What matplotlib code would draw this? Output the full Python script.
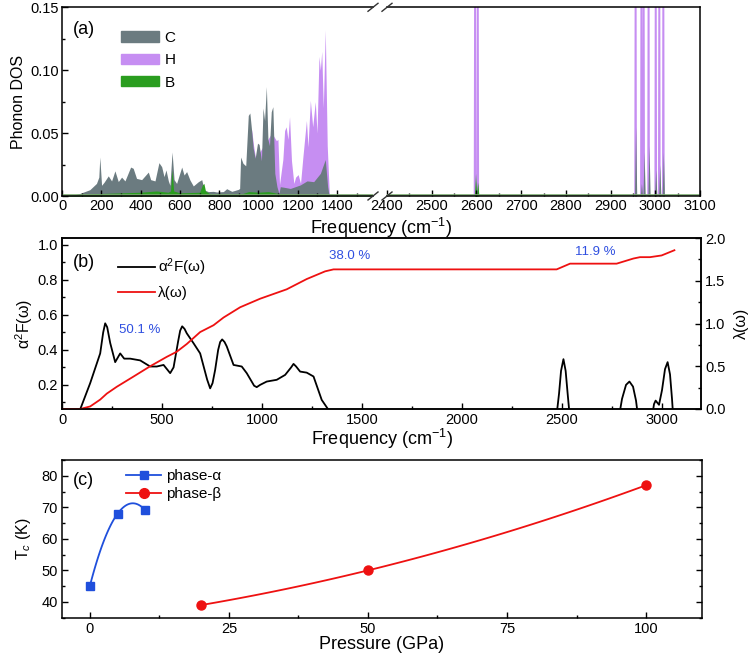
import matplotlib
matplotlib.use("Agg")
import matplotlib.pyplot as plt
from matplotlib.patches import Patch
from matplotlib.lines import Line2D
from matplotlib.ticker import MultipleLocator
import numpy as np

plt.rcParams["font.family"] = ["Liberation Sans", "DejaVu Sans"]
plt.rcParams["mathtext.fontset"] = "custom"
plt.rcParams["mathtext.rm"] = "Liberation Sans"
plt.rcParams["mathtext.it"] = "Liberation Sans:italic"

# ---- panel (a): phonon DOS, low-frequency part ----
c_freq = [0, 50, 90, 141, 175, 187, 192, 201, 214, 235, 252, 269, 286, 303, 320, 349, 362,
          379, 405, 422, 439, 451, 473, 493, 507, 519, 529, 541, 549, 560, 570, 583, 609,
          621, 634, 651, 668, 694, 711, 723, 745, 770, 787, 821, 838, 864, 898, 904, 909,
          921, 935, 948, 956, 965, 973, 983, 995, 1003, 1015, 1023, 1031, 1040, 1048, 1056,
          1065, 1073, 1083, 1094, 1104, 1111, 1128, 1162, 1213, 1247, 1281, 1315, 1340,
          1352, 1360, 1583]
c_dos = [0, 0.0005, 0.002, 0.005, 0.010, 0.015, 0.031, 0.0085, 0.011, 0.016, 0.012, 0.020,
         0.0115, 0.015, 0.012, 0.023, 0.022, 0.014, 0.013, 0.016, 0.019, 0.013, 0.012,
         0.0265, 0.0233, 0.0154, 0.0207, 0.012, 0.0085, 0.035, 0.013, 0.010, 0.023,
         0.0167, 0.0194, 0.0127, 0.008, 0.0114, 0.013, 0.0048, 0.0035, 0.0037, 0.0032,
         0.0035, 0.0058, 0.0037, 0.0053, 0.006, 0.031, 0.026, 0.024, 0.064, 0.066, 0.052,
         0.038, 0.030, 0.042, 0.041, 0.028, 0.070, 0.060, 0.087, 0.045, 0.040, 0.067,
         0.071, 0.018, 0.0074, 0.002, 0.0074, 0.007, 0.006, 0.0088, 0.012, 0.0114, 0.018,
         0.029, 0.0074, 0, 0]

h_freq = [0, 900, 960, 965, 975, 985, 1068, 1091, 1099, 1107, 1124, 1133, 1141, 1150, 1158,
          1168, 1180, 1189, 1202, 1214, 1226, 1244, 1252, 1264, 1276, 1289, 1298, 1308, 1315,
          1322, 1330, 1340, 1350, 1361, 1583]
h_dos = [0, 0, 0.030, 0.053, 0.040, 0.030, 0.050, 0.044, 0.045, 0.009, 0.029, 0.052, 0.055,
         0.045, 0.063, 0.028, 0.010, 0.015, 0.017, 0.010, 0.031, 0.060, 0.039, 0.076, 0.055,
         0.075, 0.050, 0.111, 0.100, 0.115, 0.070, 0.132, 0.040, 0, 0]

b_freq = [0, 100, 200, 300, 400, 480, 540, 552, 560, 568, 600, 700, 715, 722, 730, 760, 900,
          950, 1000, 1050, 1100, 1200, 1340, 1360, 1583]
b_dos = [0.0005, 0.001, 0.002, 0.0025, 0.003, 0.004, 0.003, 0.004, 0.0207, 0.004, 0.0025,
         0.003, 0.009, 0.010, 0.004, 0.001, 0.001, 0.0035, 0.003, 0.0035, 0.002, 0.001,
         0.001, 0.0005, 0.0005]

# ---- panel (a): high-frequency spikes (positions / heights) ----
h_spike_freq = [2597, 2603, 2956, 2969, 2974, 2985, 3001, 3009, 3018]
h_spike_dos = [0.6, 0.6, 0.6, 0.6, 0.6, 0.6, 0.6, 0.6, 0.6]
c_spike_freq = [2600, 2956, 2969, 2975, 2986, 3001, 3010, 3018]
c_spike_dos = [0.012, 0.055, 0.010, 0.035, 0.040, 0.021, 0.025, 0.035]
b_spike_freq = [2598, 2603]
b_spike_dos = [0.018, 0.011]

# ---- panel (b): Eliashberg function and lambda ----
a2f_freq = [90, 140, 190, 205, 215, 225, 240, 265, 290, 310, 340, 390, 440, 473, 507, 540,
            557, 580, 590, 600, 612, 623, 657, 690, 725, 740, 752, 765, 780, 790, 800, 812,
            823, 857, 898, 923, 960, 973, 990, 1023, 1073, 1115, 1145, 1157, 1170, 1190, 1223,
            1257, 1298, 1332, 1345]
a2f_val = [0.06, 0.21, 0.38, 0.50, 0.552, 0.53, 0.44, 0.33, 0.38, 0.35, 0.35, 0.34, 0.305,
           0.305, 0.314, 0.267, 0.30, 0.45, 0.51, 0.535, 0.52, 0.495, 0.438, 0.38, 0.23,
           0.18, 0.21, 0.286, 0.40, 0.445, 0.46, 0.445, 0.42, 0.314, 0.305, 0.267, 0.195,
           0.187, 0.20, 0.219, 0.229, 0.257, 0.30, 0.32, 0.305, 0.276, 0.27, 0.248, 0.114,
           0.057, 0.03]
a2f_freq_hi = [2470, 2485, 2495, 2507, 2518, 2528, 2540, 2782, 2800, 2820, 2837, 2855, 2870,
               2882, 2948, 2960, 2968, 2985, 3000, 3015, 3028, 3040, 3050, 3057]
a2f_val_hi = [0.0, 0.15, 0.28, 0.347, 0.28, 0.15, 0.0, 0.0, 0.12, 0.2, 0.219, 0.19, 0.11,
              0.0, 0.0, 0.09, 0.11, 0.086, 0.17, 0.29, 0.33, 0.26, 0.12, 0.0]

lam_freq = [0, 90, 140, 190, 223, 273, 357, 440, 523, 573, 623, 690, 757, 807, 890, 990,
            1123, 1223, 1315, 1357, 2473, 2540, 2773, 2815, 2857, 2890, 2940, 2998, 3062]
lam_val = [0, 0, 0.03, 0.11, 0.18, 0.26, 0.38, 0.50, 0.61, 0.67, 0.76, 0.90, 0.98, 1.07,
           1.19, 1.29, 1.40, 1.52, 1.61, 1.633, 1.633, 1.70, 1.70, 1.73, 1.76, 1.776, 1.776,
           1.796, 1.857]

pct_labels = ["50.1 %", "38.0 %", "11.9 %"]
pct_freq = [390, 1440, 2665]
pct_y = [0.514, 0.937, 0.96]

# ---- panel (c): Tc vs pressure ----
p_alpha = [0, 5, 10]
tc_alpha = [45, 68, 69]
p_beta = [20, 50, 100]
tc_beta = [39, 50, 77]

col_c = "#6b7b80"
col_h = "#c68ef2"
col_b = "#2a9d1f"
col_blue = "#1f4fdc"
col_red = "#ee1111"
col_txt = "#2f4fe0"

TICK = 10.5
XLAB = 13
YLAB = 11.5
LEG = 11

W, H = 756, 654
fig = plt.figure(figsize=(W / 100, H / 100), dpi=100)


def box(x0, y0, x1, y1):
    return [x0 / W, 1 - y1 / H, (x1 - x0) / W, (y1 - y0) / H]


def spikes(freqs, heights, hw, lo, hi):
    xs, ys = [lo], [0]
    for f, h in zip(freqs, heights):
        xs += [f - hw, f, f + hw]
        ys += [0, h, 0]
    xs.append(hi)
    ys.append(0)
    return xs, ys


def style(ax):
    ax.tick_params(which="both", direction="in", labelsize=TICK, width=1, pad=3)
    ax.tick_params(which="major", length=4)
    ax.tick_params(which="minor", length=2)
    for s in ax.spines.values():
        s.set_linewidth(1.1)


# ---------------- (a) ----------------
axL = fig.add_axes(box(62, 7.3, 373, 196))
axR = fig.add_axes(box(387, 7.3, 700, 196))
for ax in (axL, axR):
    style(ax)
    ax.set_ylim(0, 0.15)
    ax.tick_params(top=False, right=False, pad=2)
axL.fill_between(h_freq, 0, h_dos, color=col_h, lw=0)
axL.fill_between(c_freq, 0, c_dos, color=col_c, lw=0)
axL.fill_between(b_freq, 0, b_dos, color=col_b, lw=0)
axL.set_xlim(-0.5, 1583)
axL.set_xticks(np.arange(0, 1401, 200))
axL.set_xticklabels([str(v) for v in range(0, 1401, 200)])
axL.set_xticks(np.arange(100, 1501, 200), minor=True)
axL.set_yticks([0, 0.05, 0.10, 0.15])
axL.set_yticklabels(["0.00", "0.05", "0.10", "0.15"])
axL.yaxis.set_minor_locator(MultipleLocator(0.025))
axL.spines["right"].set_visible(False)
axL.set_ylabel("Phonon DOS", fontsize=YLAB, labelpad=3)

hx, hy = spikes(h_spike_freq, h_spike_dos, 3, 2400, 3100)
cx, cy = spikes(c_spike_freq, c_spike_dos, 2.5, 2400, 3100)
bx, by = spikes(b_spike_freq, b_spike_dos, 2.5, 2400, 3100)
axR.fill_between(hx, 0, hy, color=col_h, lw=0)
axR.fill_between(cx, 0, cy, color=col_c, lw=0)
axR.fill_between(bx, 0, by, color=col_b, lw=0)
axR.axhline(0.0006, color="#7aaa70", lw=1.2)
axL.axhline(0.0006, color="#7aaa70", lw=1.2)
axR.set_xlim(2400, 3100)
axR.set_xticks(np.arange(2400, 3101, 100))
axR.set_xticks(np.arange(2450, 3100, 100), minor=True)
axR.spines["left"].set_visible(False)
axR.tick_params(left=False, labelleft=False)

# break marks
for xc in (373, 387):
    for yc in (7.3, 196):
        fig.add_artist(Line2D([(xc - 5) / W, (xc + 5) / W],
                              [1 - (yc + 4) / H, 1 - (yc - 4) / H],
                              color="#333333", lw=1))

axL.text(0.036, 0.88, "(a)", transform=axL.transAxes, fontsize=13, va="center")
axL.legend(handles=[Patch(color=col_c, label="C"), Patch(color=col_h, label="H"),
                    Patch(color=col_b, label="B")],
           loc="upper left", bbox_to_anchor=(0.19, 0.875), frameon=False,
           fontsize=LEG, handlelength=2.5, handleheight=0.65, labelspacing=0.55,
           handletextpad=0.35, borderpad=0, borderaxespad=0)
fig.text(381 / W, 1 - 215.5 / H, "Frequency (cm$^{-1}$)", ha="center", va="top",
         fontsize=XLAB)

# ---------------- (b) ----------------
axb = fig.add_axes(box(62, 238, 701, 409))
style(axb)
axb.plot(a2f_freq, a2f_val, color="k", lw=1.3)
axb.plot(a2f_freq_hi, a2f_val_hi, color="k", lw=1.3)
axb.set_xlim(-1, 3195)
axb.set_ylim(0.062, 1.04)
axb.set_xticks(np.arange(0, 3001, 500))
axb.set_xticklabels([str(v) for v in range(0, 3001, 500)])
axb.set_xticks(np.arange(250, 3200, 500), minor=True)
axb.yaxis.set_major_locator(MultipleLocator(0.2))
axb.yaxis.set_minor_locator(MultipleLocator(0.1))
axb.tick_params(top=False, right=False)
axb.set_ylabel("α$^2$F(ω)", fontsize=YLAB, labelpad=2)
axb.set_xlabel("Frequency (cm$^{-1}$)", fontsize=XLAB, labelpad=0)

axl = axb.twinx()
style(axl)
axl.plot(lam_freq, lam_val, color=col_red, lw=1.3)
axl.set_ylim(0, 2.0)
axl.yaxis.set_major_locator(MultipleLocator(0.5))
axl.yaxis.set_minor_locator(MultipleLocator(0.25))
axl.yaxis.set_major_formatter(plt.FormatStrFormatter("%.1f"))
axl.set_ylabel("λ(ω)", fontsize=YLAB, labelpad=6)

for t, f, v in zip(pct_labels, pct_freq, pct_y):
    axb.text(f, v, t, color=col_txt, fontsize=9.5, ha="center", va="center")
axb.text(0.017, 0.854, "(b)", transform=axb.transAxes, fontsize=13, va="center")
axb.legend(handles=[Line2D([], [], color="k", lw=1.3, label="α$^2$F(ω)"),
                    Line2D([], [], color=col_red, lw=1.3, label="λ(ω)")],
           loc="upper left", bbox_to_anchor=(0.088, 0.89), frameon=False, fontsize=LEG,
           handlelength=2.4, labelspacing=0.5, handletextpad=0.2, borderpad=0,
           borderaxespad=0)

# ---------------- (c) ----------------
axc = fig.add_axes(box(62, 460, 701.7, 617.7))
style(axc)
pa = np.linspace(p_alpha[0], p_alpha[-1], 60)
pb = np.linspace(p_beta[0], p_beta[-1], 60)
axc.plot(pa, np.polyval(np.polyfit(p_alpha, tc_alpha, 2), pa), color=col_blue, lw=1.3)
axc.plot(pb, np.polyval(np.polyfit(p_beta, tc_beta, 2), pb), color=col_red, lw=1.3)
axc.plot(p_alpha, tc_alpha, "s", color=col_blue, ms=6)
axc.plot(p_beta, tc_beta, "o", color=col_red, ms=6.5)
axc.set_xlim(-5, 110)
axc.set_ylim(35, 85)
axc.set_xticks([0, 25, 50, 75, 100])
axc.xaxis.set_minor_locator(MultipleLocator(12.5))
axc.yaxis.set_major_locator(MultipleLocator(10))
axc.yaxis.set_minor_locator(MultipleLocator(5))
axc.tick_params(top=False, right=True, which="both")
axc.set_xlabel("Pressure (GPa)", fontsize=XLAB, labelpad=0)
axc.set_ylabel("T$_c$ (K)", fontsize=YLAB, labelpad=6)
axc.text(0.017, 0.873, "(c)", transform=axc.transAxes, fontsize=13, va="center")
axc.legend(handles=[Line2D([], [], color=col_blue, lw=1.3, marker="s", ms=6, label="phase-α"),
                    Line2D([], [], color=col_red, lw=1.3, marker="o", ms=7, label="phase-β")],
           loc="upper left", bbox_to_anchor=(0.1, 0.94), frameon=False, fontsize=LEG,
           handlelength=2.3, labelspacing=0.25, handletextpad=0.3, borderpad=0,
           borderaxespad=0)

fig.savefig("out.png", dpi=100)
